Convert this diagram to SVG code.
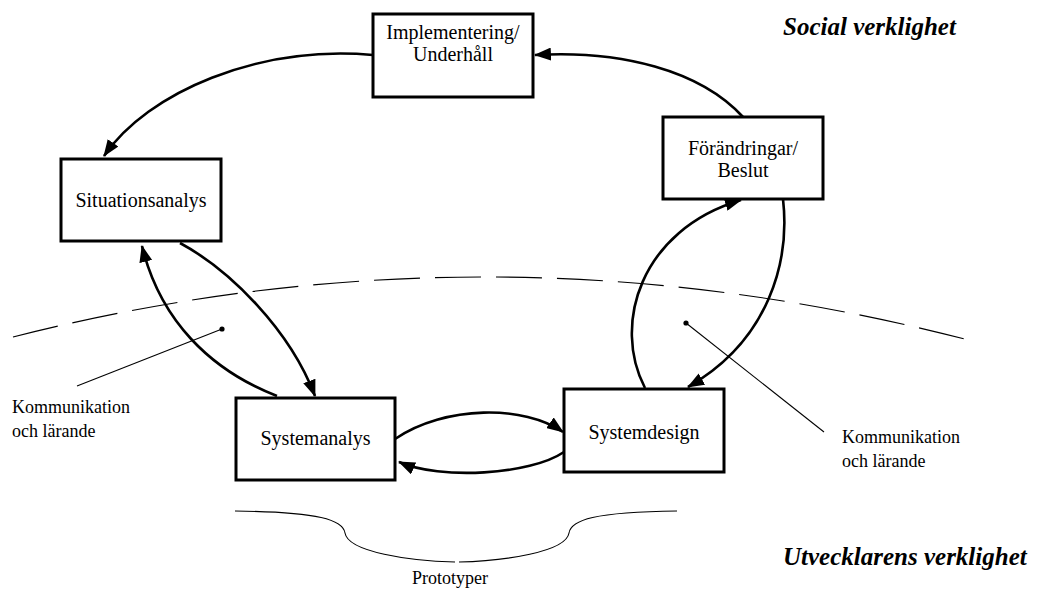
<svg xmlns="http://www.w3.org/2000/svg" width="1037" height="593" viewBox="0 0 1037 593">
  <style>
    .box { fill: #fff; stroke: #000; stroke-width: 3; }
    .lbl { font-family: "Liberation Serif", "Times New Roman", serif; font-size: 20px; fill: #000; }
    .note { font-family: "Liberation Serif", "Times New Roman", serif; font-size: 18px; fill: #000; }
    .realm { font-family: "Liberation Serif", "Times New Roman", serif; font-size: 25px; font-weight: bold; font-style: italic; fill: #000; }
    .flow { fill: none; stroke: #000; stroke-width: 2.6; marker-end: url(#head); }
    .thin { fill: none; stroke: #000; stroke-width: 1.1; }
  </style>
  <defs>
    <marker id="head" markerUnits="userSpaceOnUse" markerWidth="17" markerHeight="13" viewBox="0 0 17 13" refX="16" refY="6.5" orient="auto">
      <path d="M0,0 L17,6.5 L0,13 z" fill="#000"/>
    </marker>
  </defs>
  <rect width="1037" height="593" fill="#fff"/>

  <!-- boundary between the two realities -->
  <g id="boundary">
    <path class="thin" d="M13,337 Q492,215 972,341" stroke-dasharray="46 15"/>
  </g>

  <!-- process flow connectors -->
  <g id="connectors">
    <path class="flow" d="M373,55 C258,45 148,92 104,156"/>
    <path class="flow" d="M743,117 C700,70 620,50 535,55"/>
    <path class="flow" d="M180,243 C230,270 290,330 315,396"/>
    <path class="flow" d="M277,396 C210,370 160,320 142,246"/>
    <path class="flow" d="M395,439 C445,405 525,405 563,432"/>
    <path class="flow" d="M564,452 C530,475 440,480 399,462"/>
    <path class="flow" d="M645,388 C612,325 640,230 741,200"/>
    <path class="flow" d="M783,199 C790,260 770,340 688,387"/>
  </g>

  <g id="implementering">
    <rect class="box" x="373" y="14" width="160" height="83"/>
    <text class="lbl" x="453" y="39" text-anchor="middle">Implementering/</text>
    <text class="lbl" x="453" y="61" text-anchor="middle">Underhåll</text>
  </g>

  <g id="forandringar">
    <rect class="box" x="663" y="117" width="160" height="82"/>
    <text class="lbl" x="743" y="155" text-anchor="middle">Förändringar/</text>
    <text class="lbl" x="743" y="177" text-anchor="middle">Beslut</text>
  </g>

  <g id="situationsanalys">
    <rect class="box" x="61" y="159" width="160" height="82"/>
    <text class="lbl" x="141" y="207" text-anchor="middle">Situationsanalys</text>
  </g>

  <g id="systemanalys">
    <rect class="box" x="236" y="398" width="159" height="82"/>
    <text class="lbl" x="315.5" y="445" text-anchor="middle">Systemanalys</text>
  </g>

  <g id="systemdesign">
    <rect class="box" x="564" y="389" width="160" height="83"/>
    <text class="lbl" x="644" y="439" text-anchor="middle">Systemdesign</text>
  </g>

  <!-- callouts for the communication zones -->
  <g id="callout-left">
    <line class="thin" x1="222" y1="329" x2="77" y2="386"/>
    <circle cx="222" cy="329" r="2.6" fill="#000"/>
    <text class="note" x="12" y="413">Kommunikation</text>
    <text class="note" x="12" y="437">och lärande</text>
  </g>

  <g id="callout-right">
    <line class="thin" x1="686" y1="323" x2="824" y2="432"/>
    <circle cx="686" cy="323" r="2.6" fill="#000"/>
    <text class="note" x="842" y="443">Kommunikation</text>
    <text class="note" x="842" y="467">och lärande</text>
  </g>

  <!-- prototypes brace -->
  <g id="prototyper">
    <path class="thin" d="M235,511 C320,512 343,520 345,533 C348,552 410,561 455,562"/>
    <path class="thin" d="M459,562 C504,561 566,552 569,533 C571,520 594,512 677,511"/>
    <text class="note" x="450" y="584" text-anchor="middle">Prototyper</text>
  </g>

  <g id="realms">
    <text class="realm" x="783" y="35">Social verklighet</text>
    <text class="realm" x="783" y="565">Utvecklarens verklighet</text>
  </g>
</svg>
